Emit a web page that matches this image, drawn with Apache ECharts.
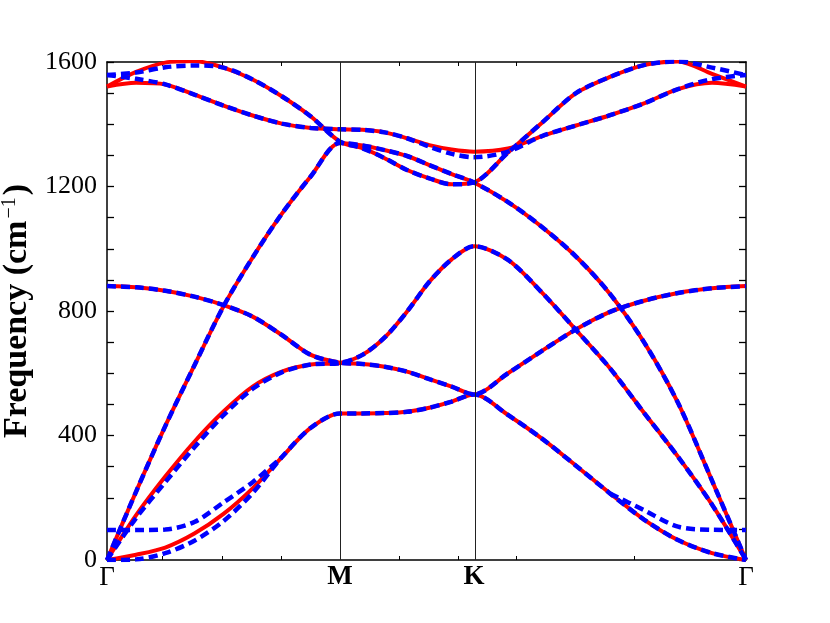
<!DOCTYPE html>
<html>
<head>
<meta charset="utf-8">
<script src="https://cdn.jsdelivr.net/npm/echarts@6/dist/echarts.min.js"></script>
<style>html,body{margin:0;padding:0;background:#fff;}#chart{width:830px;height:623px;}</style>
</head>
<body>
<div id="chart"></div>
<script>
// path coordinate (Gamma = 0, M = 1, K, Gamma)
var kx = [0, 0.125, 0.25, 0.375, 0.5, 0.625, 0.75, 0.875, 1,
          1.0959, 1.1917, 1.2876, 1.3834, 1.4793, 1.5751,
          1.7210, 1.8669, 2.0128, 2.1588, 2.3047, 2.4506, 2.5966, 2.7425];
var symPoints = [0, 1, 1.5751, 2.7425];
var symLabels = ['Γ', 'M', 'K', 'Γ'];
var xMinorTicks = [0.236, 0.494, 0.747, 1.253, 1.506, 1.755, 2.262];
var yTicks = [0, 400, 800, 1200, 1600];

// red (solid) bands
var redZA = [0, 17, 40, 85, 148, 230, 330, 425, 471, 471, 472, 476, 489, 509, 532, 466, 390, 303, 214, 130, 64, 22, 0];
var redTA = [0, 144, 268, 380, 477, 557, 605, 628, 633, 659, 715, 798, 894, 966, 1008, 964, 859, 739, 616, 473, 332, 178, 0];
var redZO = [880, 876, 865, 846, 819, 782, 723, 659, 634, 630, 621, 605, 581, 557, 532, 600, 672, 741, 797, 833, 858, 873, 880];
var redLA = [0, 220, 430, 625, 815, 972, 1112, 1233, 1340, 1332, 1317, 1298, 1269, 1240, 1213, 1150, 1070, 975, 855, 700, 505, 255, 0];
var redLO = [1521, 1568, 1598, 1603, 1582, 1544, 1490, 1425, 1344, 1323, 1291, 1253, 1226, 1207, 1213, 1309, 1405, 1500, 1552, 1590, 1602, 1562, 1521];
var redTO = [1521, 1533, 1528, 1495, 1460, 1428, 1402, 1388, 1384, 1382, 1374, 1355, 1333, 1319, 1312, 1322, 1362, 1396, 1429, 1467, 1513, 1533, 1521];

// blue (dashed) bands
var blueZA = [0, 2, 22, 62, 125, 215, 330, 425, 471, 471, 472, 476, 489, 509, 532, 466, 390, 303, 214, 130, 64, 22, 0];
var blueTA = [0, 135, 250, 362, 465, 550, 603, 628, 633, 659, 715, 798, 894, 966, 1008, 964, 859, 739, 616, 473, 332, 178, 0];
var blueZO = [880, 876, 865, 846, 819, 782, 723, 659, 634, 630, 621, 605, 581, 557, 532, 600, 672, 741, 797, 833, 858, 873, 880];
var blueLA = [0, 220, 430, 625, 815, 972, 1112, 1233, 1340, 1332, 1317, 1298, 1269, 1240, 1213, 1150, 1070, 975, 855, 700, 505, 255, 0];
var blueLO = [1558, 1566, 1583, 1589, 1582, 1544, 1490, 1425, 1344, 1323, 1291, 1253, 1226, 1207, 1213, 1309, 1405, 1500, 1552, 1590, 1602, 1582, 1558];
var blueTO = [1558, 1546, 1528, 1495, 1460, 1428, 1402, 1388, 1384, 1382, 1374, 1355, 1328, 1305, 1294, 1312, 1362, 1396, 1429, 1467, 1513, 1545, 1558];
var blueExtra = [96, 96, 98, 122, 185, 250, 330, null, null, null, null, null, null, null, null, null, null, null, 214, 160, 107, 97, 96];

function pairs(vals) {
  return kx.map(function (x, i) { return [x, vals[i]]; });
}
var serif = 'Liberation Serif';

var series = [];
series.push({
  type: 'line', data: [], silent: true, z: 1,
  markLine: {
    silent: true, symbol: ['none', 'none'], label: {show: false},
    lineStyle: {color: '#222', width: 1, type: 'solid'},
    data: [{xAxis: symPoints[1]}, {xAxis: symPoints[2]}],
    animation: false
  }
});
[redZA, redTA, redZO, redLA, redLO, redTO].forEach(function (b) {
  series.push({
    type: 'line', data: pairs(b), showSymbol: false, smooth: 0.3,
    lineStyle: {color: '#ff0000', width: 4}, z: 2, silent: true
  });
});
[blueZA, blueTA, blueZO, blueLA, blueLO, blueTO, blueExtra].forEach(function (b) {
  series.push({
    type: 'line', data: pairs(b), showSymbol: false, smooth: 0.3,
    connectNulls: false,
    lineStyle: {color: '#0000ff', width: 4.5, type: [9, 5]}, z: 3, silent: true
  });
});

var chart = echarts.init(document.getElementById('chart'), null, {renderer: 'canvas'});
chart.setOption({
  animation: false,
  backgroundColor: '#fff',
  grid: {left: 107, right: 84, top: 62, bottom: 63, containLabel: false, outerBoundsMode: 'none'},
  xAxis: [{
    type: 'value', min: 0, max: symPoints[3], position: 'bottom',
    axisLine: {show: true, onZero: false, lineStyle: {color: '#000', width: 1.5}},
    axisTick: {show: true, inside: true, length: 4, customValues: xMinorTicks, lineStyle: {color: '#000', width: 1}},
    axisLabel: {
      show: true, customValues: symPoints, margin: 4,
      formatter: function (v) {
        var best = 0;
        for (var i = 0; i < symPoints.length; i++) {
          if (Math.abs(symPoints[i] - v) < Math.abs(symPoints[best] - v)) best = i;
        }
        var t = symLabels[best];
        return t === 'Γ' ? '{g|Γ}' : '{b|' + t + '}';
      },
      rich: {
        g: {fontFamily: serif, fontSize: 27, color: '#000'},
        b: {fontFamily: serif, fontSize: 27, fontWeight: 'bold', color: '#000'}
      }
    },
    splitLine: {show: false}
  }, {
    type: 'value', min: 0, max: symPoints[3], position: 'top',
    axisLine: {show: true, onZero: false, lineStyle: {color: '#000', width: 1.5}},
    axisTick: {show: true, inside: true, length: 4, customValues: xMinorTicks, lineStyle: {color: '#000', width: 1}},
    axisLabel: {show: false},
    splitLine: {show: false}
  }],
  yAxis: [{
    type: 'value', min: 0, max: 1600, interval: 400, position: 'left',
    name: '{a|Frequency (cm}{s|−1}{a|)}',
    nameLocation: 'middle', nameRotate: 90, nameGap: 64,
    nameTextStyle: {
      rich: {
        a: {fontFamily: serif, fontSize: 34, fontWeight: 'bold', color: '#000'},
        s: {fontFamily: serif, fontSize: 20, color: '#000', verticalAlign: 'top', padding: [0, 2, 14, 2]}
      }
    },
    axisLine: {show: true, onZero: false, lineStyle: {color: '#000', width: 1.5}},
    axisTick: {show: true, inside: true, length: 7, lineStyle: {color: '#000', width: 1.3}},
    minorTick: {show: true, splitNumber: 4, length: 7, lineStyle: {color: '#000', width: 1.3}},
    axisLabel: {show: true, margin: 10, fontFamily: serif, fontSize: 26, color: '#000',
      customValues: yTicks, formatter: function (v) { return String(v); }},
    splitLine: {show: false}
  }, {
    type: 'value', min: 0, max: 1600, interval: 400, position: 'right',
    axisLine: {show: true, onZero: false, lineStyle: {color: '#000', width: 1.5}},
    axisTick: {show: true, inside: true, length: 7, lineStyle: {color: '#000', width: 1.3}},
    minorTick: {show: true, splitNumber: 4, length: 7, lineStyle: {color: '#000', width: 1.3}},
    axisLabel: {show: false},
    splitLine: {show: false}
  }],
  series: series
});
</script>
</body>
</html>
